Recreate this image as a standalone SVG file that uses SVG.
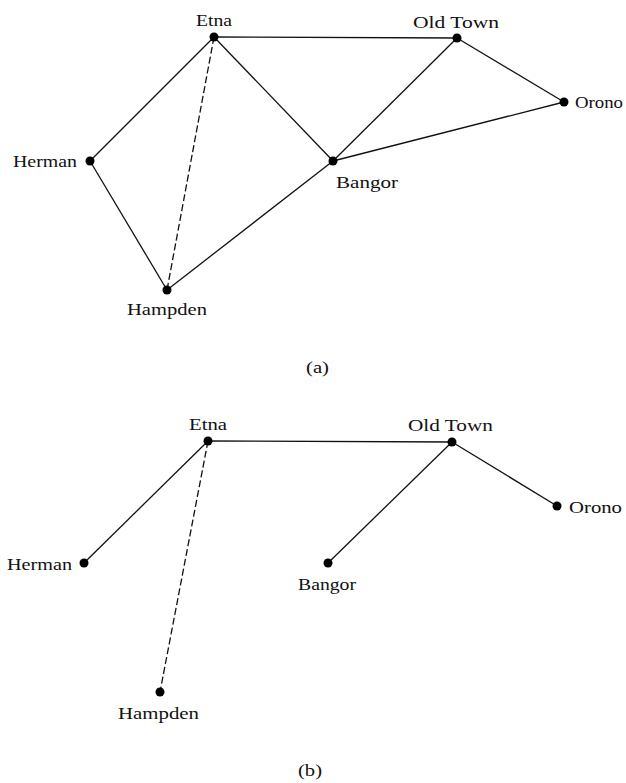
<svg xmlns="http://www.w3.org/2000/svg" width="626" height="783" viewBox="0 0 626 783">
<style>
.e{stroke:#111;stroke-width:1.3;fill:none}
.d{stroke-dasharray:7 3}
.n{fill:#000}
text{font-family:"Liberation Serif","Times New Roman",serif;font-size:17px;fill:#111;lengthAdjust:spacingAndGlyphs}
</style>
<rect width="626" height="783" fill="#fff"/>
<g id="connectors">
<line class="e" x1="214" y1="37" x2="457" y2="38"/>
<line class="e" x1="214" y1="37" x2="90" y2="161"/>
<line class="e d" x1="214" y1="37" x2="167" y2="290"/>
<line class="e" x1="214" y1="37" x2="333" y2="161"/>
<line class="e" x1="457" y1="38" x2="333" y2="161"/>
<line class="e" x1="457" y1="38" x2="564" y2="102"/>
<line class="e" x1="564" y1="102" x2="333" y2="161"/>
<line class="e" x1="90" y1="161" x2="167" y2="290"/>
<line class="e" x1="167" y1="290" x2="333" y2="161"/>
<line class="e" x1="208" y1="441" x2="452" y2="442"/>
<line class="e" x1="208" y1="441" x2="84" y2="563"/>
<line class="e d" x1="208" y1="441" x2="160" y2="692"/>
<line class="e" x1="452" y1="442" x2="328" y2="563"/>
<line class="e" x1="452" y1="442" x2="557" y2="506"/>
</g>
<g id="a-etna"><circle class="n" cx="214" cy="37" r="4.5"/><text x="196" y="26" textLength="36" lengthAdjust="spacingAndGlyphs">Etna</text></g>
<g id="a-oldtown"><circle class="n" cx="457" cy="38" r="4.5"/><text x="413" y="28" textLength="86" lengthAdjust="spacingAndGlyphs">Old Town</text></g>
<g id="a-orono"><circle class="n" cx="564" cy="102" r="4.5"/><text x="575" y="108" textLength="48" lengthAdjust="spacingAndGlyphs">Orono</text></g>
<g id="a-herman"><circle class="n" cx="90" cy="161" r="4.5"/><text x="13" y="167" textLength="64" lengthAdjust="spacingAndGlyphs">Herman</text></g>
<g id="a-bangor"><circle class="n" cx="333" cy="161" r="4.5"/><text x="336" y="188" textLength="62" lengthAdjust="spacingAndGlyphs">Bangor</text></g>
<g id="a-hampden"><circle class="n" cx="167" cy="290" r="4.5"/><text x="127" y="315" textLength="80" lengthAdjust="spacingAndGlyphs">Hampden</text></g>
<g id="caption-a"><text x="306" y="373" textLength="23" lengthAdjust="spacingAndGlyphs">(a)</text></g>
<g id="b-etna"><circle class="n" cx="208" cy="441" r="4.5"/><text x="189" y="430" textLength="38" lengthAdjust="spacingAndGlyphs">Etna</text></g>
<g id="b-oldtown"><circle class="n" cx="452" cy="442" r="4.5"/><text x="408" y="431" textLength="85" lengthAdjust="spacingAndGlyphs">Old Town</text></g>
<g id="b-orono"><circle class="n" cx="557" cy="506" r="4.5"/><text x="569" y="513" textLength="53" lengthAdjust="spacingAndGlyphs">Orono</text></g>
<g id="b-herman"><circle class="n" cx="84" cy="563" r="4.5"/><text x="7" y="570" textLength="65" lengthAdjust="spacingAndGlyphs">Herman</text></g>
<g id="b-bangor"><circle class="n" cx="328" cy="563" r="4.5"/><text x="298" y="590" textLength="58" lengthAdjust="spacingAndGlyphs">Bangor</text></g>
<g id="b-hampden"><circle class="n" cx="160" cy="692" r="4.5"/><text x="118" y="719" textLength="81" lengthAdjust="spacingAndGlyphs">Hampden</text></g>
<g id="caption-b"><text x="298" y="776" textLength="24" lengthAdjust="spacingAndGlyphs">(b)</text></g>
</svg>
